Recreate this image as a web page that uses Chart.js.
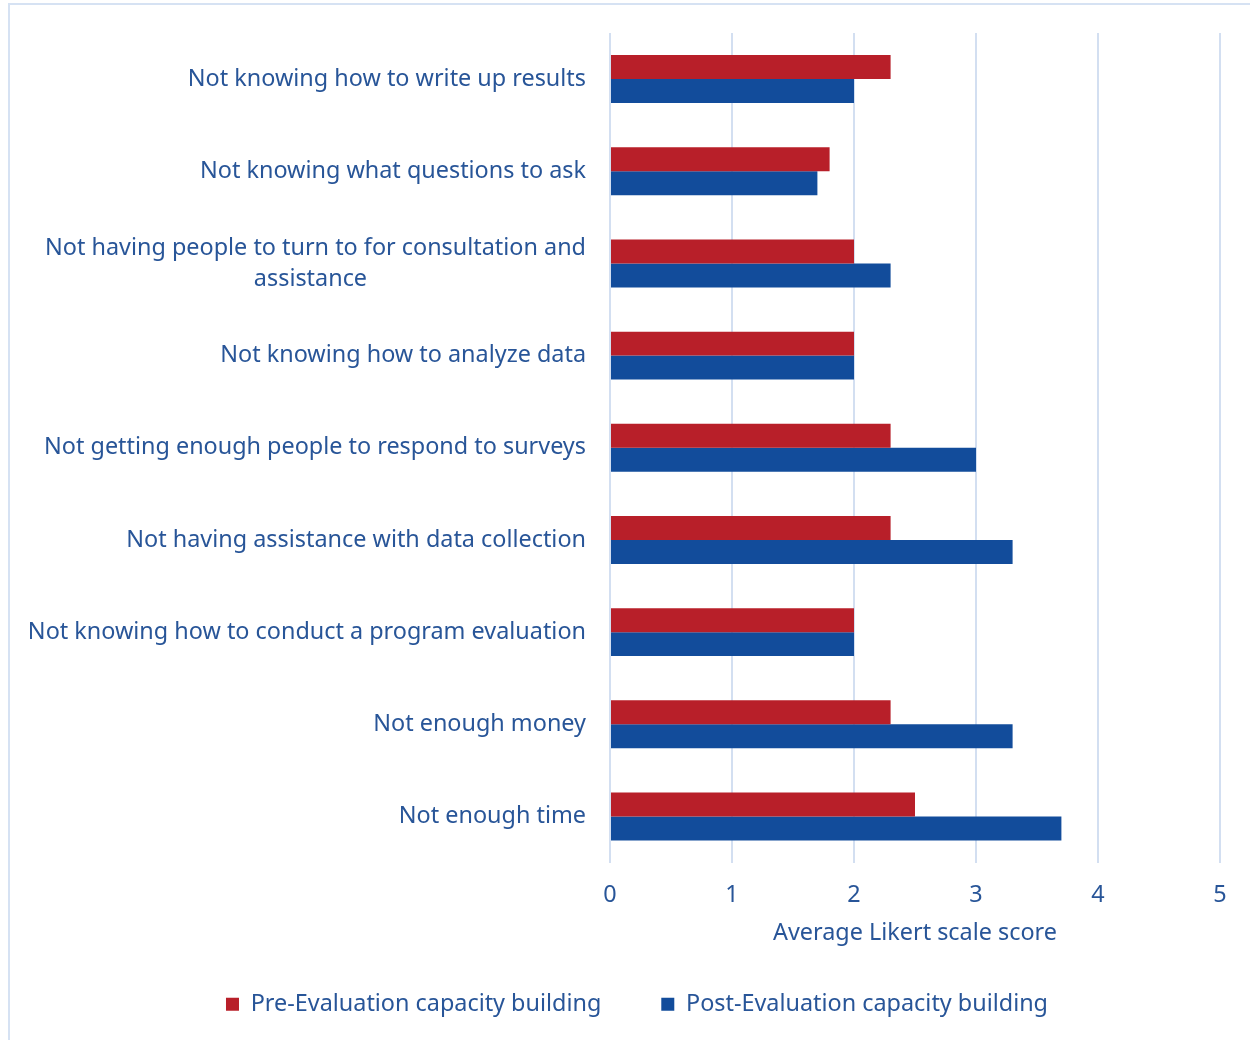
<!DOCTYPE html>
<html>
<head>
<meta charset="utf-8">
<script src="https://cdn.jsdelivr.net/npm/chart.js@4.4.1/dist/chart.umd.min.js"></script>
<style>
  html, body { margin: 0; padding: 0; background: #fff; }
  #wrap { position: relative; width: 1250px; height: 1040px; }
  #frame {
    position: absolute; left: 8px; top: 3px; width: 1300px; height: 1100px;
    border-top: 2px solid #d6e2f3; border-left: 2px solid #d6e2f3;
  }
  canvas { position: absolute; left: 0; top: 0; }
</style>
</head>
<body>
<div id="wrap">
  <div id="frame"></div>
  <canvas id="myChart" width="1250" height="1040"></canvas>
</div>
<script>
var categories = [
    'Not knowing how to write up results',
    'Not knowing what questions to ask',
    ['Not having people to turn to for consultation and', 'assistance' + ' '.repeat(36)],
    'Not knowing how to analyze data',
    'Not getting enough people to respond to surveys',
    'Not having assistance with data collection',
    'Not knowing how to conduct a program evaluation',
    'Not enough money',
    'Not enough time'
];
var preScores  = [2.3, 1.8, 2.0, 2.0, 2.3, 2.3, 2.0, 2.3, 2.5];
var postScores = [2.0, 1.7, 2.3, 2.0, 3.0, 3.3, 2.0, 3.3, 3.7];
var xTicks = [0, 1, 2, 3, 4, 5];

var textColor = '#285598';
var fontFamily = '"Noto Sans", sans-serif';
var fontSize = 23.4;

// nudge the legend row right so it sits under the middle of the page
var legendShift = {
    id: 'legendShift',
    afterLayout: function (chart) {
        chart.legend.left += 22;
        chart.legend.right += 22;
    }
};

var ctx = document.getElementById('myChart').getContext('2d');
var myChart = new Chart(ctx, {
    type: 'bar',
    data: {
        labels: categories,
        datasets: [{
            label: 'Pre-Evaluation capacity building',
            data: preScores,
            backgroundColor: '#b81f29',
            barPercentage: 1,
            categoryPercentage: 0.52
        }, {
            label: 'Post-Evaluation capacity building',
            data: postScores,
            backgroundColor: '#124c9b',
            barPercentage: 1,
            categoryPercentage: 0.52
        }]
    },
    plugins: [legendShift],
    options: {
        indexAxis: 'y',
        responsive: false,
        animation: false,
        layout: {
            padding: { top: 33, left: 10, right: 30, bottom: 14 }
        },
        plugins: {
            tooltip: { enabled: false },
            legend: {
                position: 'bottom',
                labels: {
                    color: textColor,
                    font: { family: fontFamily, size: fontSize },
                    boxWidth: 13,
                    boxHeight: 13,
                    padding: 60
                }
            }
        },
        scales: {
            x: {
                min: 0,
                max: 5,
                afterBuildTicks: function (scale) {
                    scale.ticks = xTicks.map(function (v) { return { value: v }; });
                },
                afterFit: function (scale) { scale.height = 70; },
                grid: { color: '#d3dff1', lineWidth: 2, drawTicks: false },
                border: { display: false },
                ticks: {
                    color: textColor,
                    padding: 19,
                    font: { family: fontFamily, size: fontSize }
                },
                title: {
                    display: true,
                    text: 'Average Likert scale score',
                    color: textColor,
                    font: { family: fontFamily, size: fontSize },
                    padding: { top: 0, bottom: -15 }
                }
            },
            y: {
                grid: { display: false, drawTicks: false },
                border: { display: false },
                afterFit: function (scale) {
                    scale.width = 600;
                    scale.paddingTop = 0;
                    scale.paddingBottom = 0;
                },
                ticks: {
                    color: textColor,
                    padding: 24,
                    font: { family: fontFamily, size: fontSize, lineHeight: 1.32 }
                }
            }
        }
    }
});
</script>
</body>
</html>
